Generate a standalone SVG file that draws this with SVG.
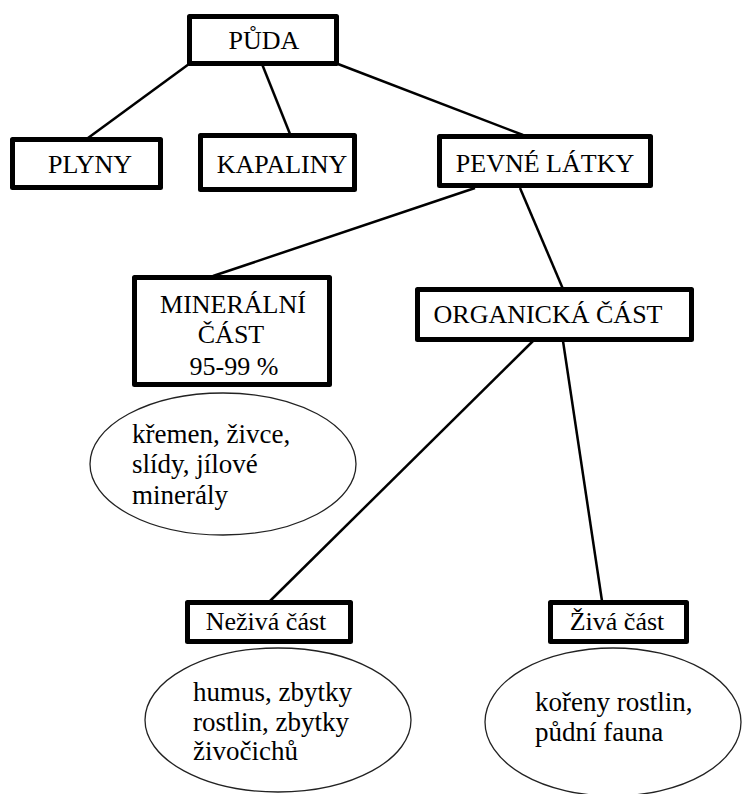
<svg xmlns="http://www.w3.org/2000/svg" width="744" height="794" viewBox="0 0 744 794">
<style>
.box{fill:#fff;stroke:#000;stroke-width:5;stroke-linejoin:round}
.ell{fill:#fff;stroke:#222;stroke-width:1.3}
text{font-family:'Liberation Serif','Times New Roman',serif;fill:#000}
.t{font-size:26px;text-anchor:middle}
.tl{font-size:27px}
.c line{stroke:#000;stroke-width:2.5;fill:none}
</style>
<rect width="744" height="794" fill="#fff"/>
<g class="c" id="connectors">
<line x1="189" y1="64" x2="88" y2="138"/>
<line x1="262" y1="64" x2="290" y2="134"/>
<line x1="338" y1="64" x2="523" y2="135"/>
<line x1="475" y1="188" x2="213" y2="276"/>
<line x1="520" y1="188" x2="563" y2="289"/>
<line x1="533" y1="341" x2="270" y2="601"/>
<line x1="563" y1="341" x2="602" y2="601"/>
</g>
<g id="puda"><rect class="box" x="189.5" y="16.5" width="147" height="47"/><text class="t" x="264" y="49">PŮDA</text></g>
<g id="plyny"><rect class="box" x="12.5" y="139.5" width="148" height="48"/><text class="t" x="90" y="173">PLYNY</text></g>
<g id="kapaliny"><rect class="box" x="200.5" y="135.5" width="154" height="54"/><text class="t" x="282" y="173">KAPALINY</text></g>
<g id="pevne"><rect class="box" x="439.5" y="136.5" width="211" height="49"/><text class="t" x="545" y="172">PEVNÉ LÁTKY</text></g>
<g id="mineralni"><rect class="box" x="134.5" y="277.5" width="195" height="107"/><text class="t" x="233" y="313">MINERÁLNÍ</text><text class="t" x="231" y="343">ČÁST</text><text class="t" x="234" y="375">95-99 %</text></g>
<g id="organicka"><rect class="box" x="417.5" y="289.5" width="274" height="50"/><text class="t" x="548" y="323">ORGANICKÁ ČÁST</text></g>
<g id="mineraly"><ellipse class="ell" cx="223" cy="464" rx="133" ry="71"/><text class="tl" x="132" y="443">křemen, živce,</text><text class="tl" x="132" y="473">slídy, jílové</text><text class="tl" x="132" y="504">minerály</text></g>
<g id="neziva"><rect class="box" x="187.5" y="602.5" width="163" height="39"/><text class="t" x="266" y="630">Neživá část</text></g>
<g id="ziva"><rect class="box" x="550.5" y="602.5" width="136" height="39"/><text class="t" x="617" y="630">Živá část</text></g>
<g id="humus"><ellipse class="ell" cx="278" cy="720" rx="133" ry="72"/><text class="tl" x="193" y="701">humus, zbytky</text><text class="tl" x="193" y="731">rostlin, zbytky</text><text class="tl" x="193" y="760">živočichů</text></g>
<g id="koreny"><ellipse class="ell" cx="613" cy="722" rx="128" ry="74"/><text class="tl" x="535" y="711">kořeny rostlin,</text><text class="tl" x="535" y="741">půdní fauna</text></g>
</svg>
